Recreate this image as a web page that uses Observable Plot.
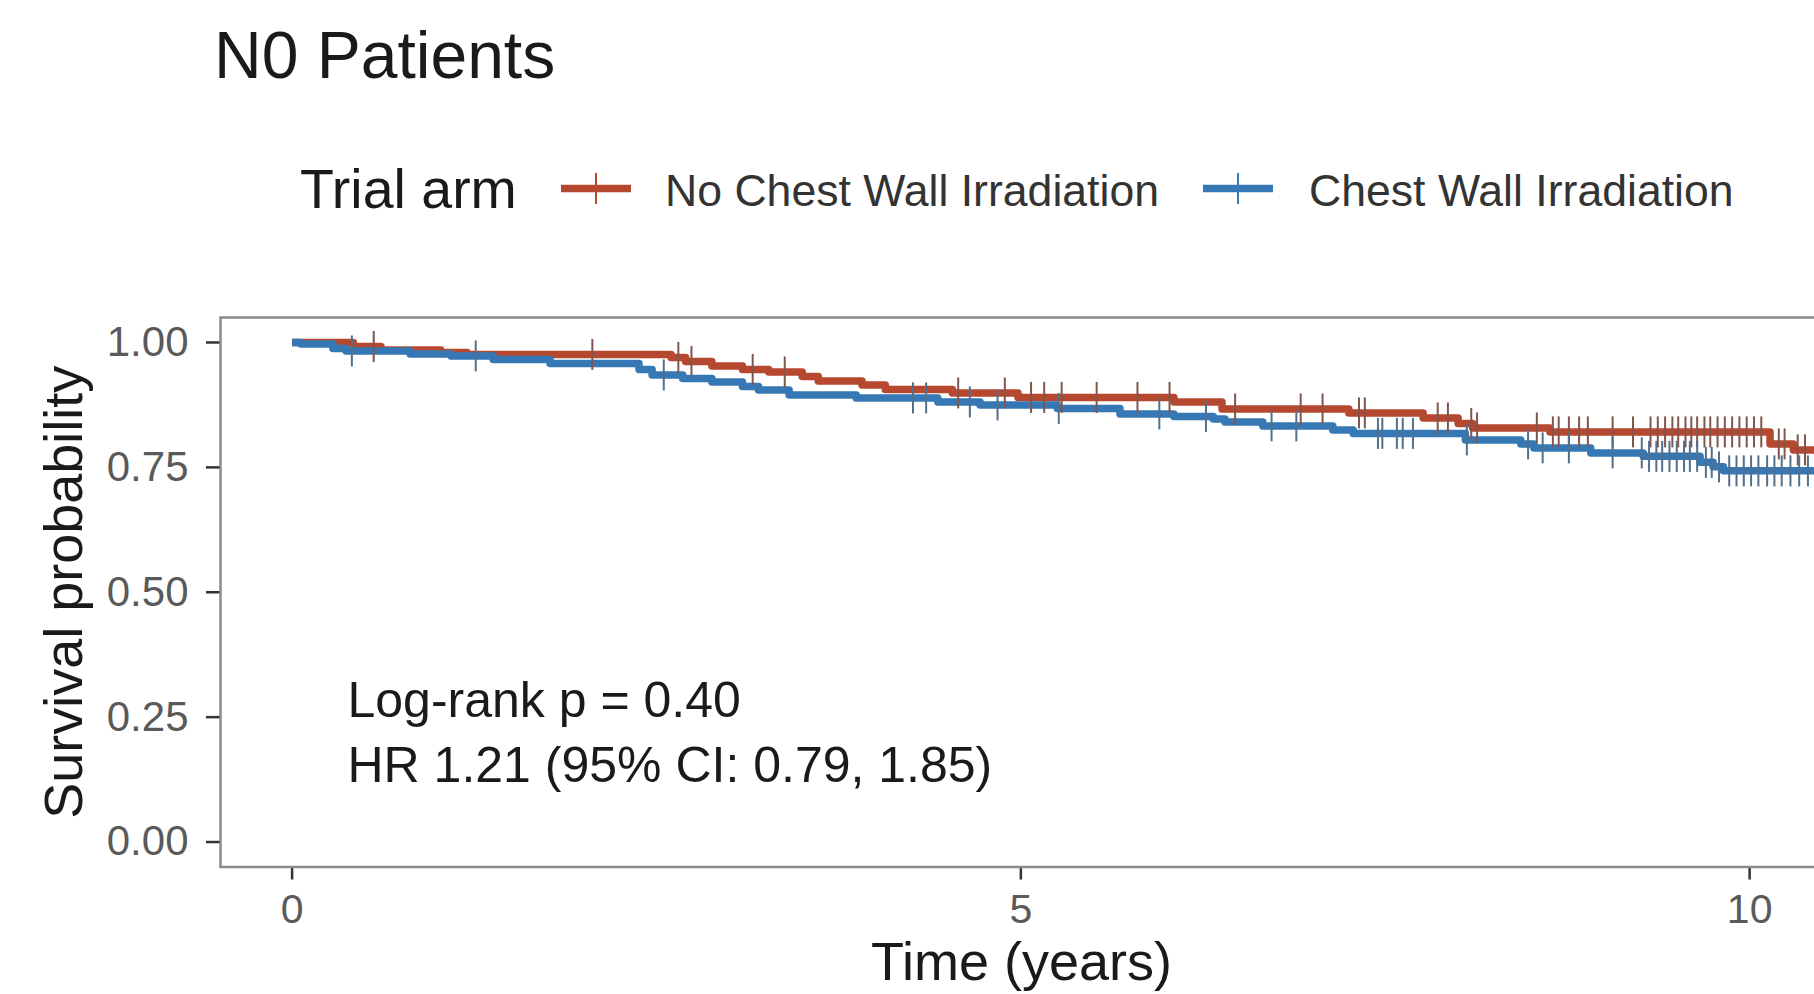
<!DOCTYPE html>
<html>
<head>
<meta charset="utf-8">
<script src="https://cdn.jsdelivr.net/npm/d3@7"></script>
<script src="https://cdn.jsdelivr.net/npm/@observablehq/plot@0.6"></script>
<style>
  html, body { margin: 0; padding: 0; background: #fff; overflow: hidden; }
  #chart { width: 1814px; height: 994px; overflow: hidden; }
  svg text { font-family: "Liberation Sans", Arial, Helvetica, sans-serif; }
</style>
</head>
<body>
<div id="chart"></div>
<script>
// Trial arms, in drawing order
const arms = ["No Chest Wall Irradiation", "Chest Wall Irradiation"];
const armColors = ["#B5482E", "#3678B5"];
const censorColors = ["#80564d", "#52708c"];

// Kaplan–Meier steps: time (years) and survival after each step
const noCwiTime = [0, 0.42, 0.61, 1.02, 1.20, 2.60, 2.70, 2.88, 3.09, 3.27, 3.50, 3.61, 3.91, 4.07, 4.53, 4.98, 6.05, 6.38, 7.25, 7.76, 8.00, 8.10, 8.63, 10.14, 10.30];
const noCwiSurv = [1.000, 0.992, 0.985, 0.980, 0.976, 0.970, 0.962, 0.953, 0.946, 0.941, 0.932, 0.923, 0.915, 0.906, 0.899, 0.890, 0.881, 0.867, 0.859, 0.849, 0.838, 0.829, 0.821, 0.797, 0.785];

const cwiTime = [0, 0.06, 0.28, 0.37, 0.81, 1.09, 1.38, 1.77, 2.38, 2.47, 2.68, 2.88, 3.09, 3.20, 3.41, 3.87, 4.43, 4.72, 5.25, 5.68, 6.05, 6.32, 6.40, 6.66, 7.14, 7.28, 8.05, 8.43, 8.52, 8.91, 9.27, 9.66, 9.75, 9.82];
const cwiSurv = [1.000, 0.997, 0.988, 0.983, 0.977, 0.973, 0.966, 0.958, 0.946, 0.935, 0.928, 0.921, 0.912, 0.905, 0.895, 0.889, 0.881, 0.875, 0.868, 0.857, 0.852, 0.847, 0.841, 0.833, 0.825, 0.818, 0.805, 0.797, 0.789, 0.779, 0.772, 0.760, 0.751, 0.743];

// Censoring times (years)
const noCwiCensor = [0.56, 2.06, 2.65, 2.74, 3.16, 3.38, 4.57, 4.89, 5.07, 5.16, 5.28, 5.52, 5.80, 6.02, 6.47, 6.92, 7.07, 7.32, 7.36, 7.86, 7.93, 8.09, 8.13, 8.54, 8.65, 8.69, 8.76, 8.83, 8.89, 9.06, 9.20, 9.32, 9.37, 9.42, 9.47, 9.51, 9.56, 9.60, 9.64, 9.69, 9.73, 9.78, 9.83, 9.88, 9.93, 9.98, 10.03, 10.08, 10.20, 10.24, 10.33, 10.38, 10.45];
const cwiCensor = [0.41, 1.26, 2.55, 4.26, 4.35, 4.65, 4.84, 5.26, 5.95, 6.27, 6.72, 6.89, 7.45, 7.48, 7.58, 7.62, 7.69, 8.06, 8.48, 8.58, 8.76, 9.06, 9.26, 9.31, 9.36, 9.40, 9.45, 9.50, 9.55, 9.59, 9.64, 9.70, 9.74, 9.79, 9.86, 9.91, 9.96, 10.01, 10.06, 10.12, 10.17, 10.22, 10.28, 10.34, 10.40, 10.45];

const xTicks = [0, 5, 10];
const yTicks = [0, 0.25, 0.5, 0.75, 1];

const titleText = "N0 Patients";
const legendTitle = "Trial arm";
const pValueText = "Log-rank p = 0.40";
const hrText = "HR 1.21 (95% CI: 0.79, 1.85)";
const xLabel = "Time (years)";
const yLabel = "Survival probability";

const times = [noCwiTime, cwiTime];
const survs = [noCwiSurv, cwiSurv];
const censors = [noCwiCensor, cwiCensor];

// survival at time t from a step function
function survAt(ts, ss, t) {
  const i = d3.bisectRight(ts, t) - 1;
  return ss[Math.max(0, i)];
}

// step rows per arm, held flat up to the last follow-up time
const curveRows = arms.map((arm, i) => {
  const rows = times[i].map((t, j) => ({arm, t, s: survs[i][j]}));
  const end = d3.max(censors[i]);
  rows.push({arm, t: end, s: survAt(times[i], survs[i], end)});
  return rows;
});
const censorRows = arms.map((arm, i) =>
  censors[i].map(t => ({arm, t, s: survAt(times[i], survs[i], t)}))
);

// vertical bar of the "+" censor mark
const censorBar = {
  draw(ctx, size) {
    const h = Math.sqrt(size / Math.PI);
    ctx.moveTo(0, -h);
    ctx.lineTo(0, h);
  }
};

const font = '"Liberation Sans", Arial, Helvetica, sans-serif';

// header: title and legend
const header = d3.create("svg")
  .attr("width", 1814).attr("height", 250)
  .style("display", "block")
  .style("font-family", font);

header.append("text")
  .attr("x", 214).attr("y", 77.5)
  .attr("font-size", 66).attr("fill", "#1a1a1a")
  .text(titleText);

header.append("text")
  .attr("x", 300).attr("y", 208)
  .attr("font-size", 55.5).attr("fill", "#1a1a1a")
  .text(legendTitle);

const keyX = [561, 1203];
const labelX = [665, 1309];
arms.forEach((arm, i) => {
  const g = header.append("g");
  g.append("line")
    .attr("x1", keyX[i]).attr("x2", keyX[i] + 70)
    .attr("y1", 188.6).attr("y2", 188.6)
    .attr("stroke", armColors[i]).attr("stroke-width", 7.5);
  g.append("line")
    .attr("x1", keyX[i] + 35).attr("x2", keyX[i] + 35)
    .attr("y1", 173).attr("y2", 204)
    .attr("stroke", armColors[i]).attr("stroke-width", 2);
  g.append("text")
    .attr("x", labelX[i]).attr("y", 206)
    .attr("font-size", 44.6).attr("fill", "#333")
    .text(arm);
});

const marks = [];
arms.forEach((arm, i) => {
  marks.push(Plot.line(curveRows[i], {
    x: "t", y: "s", curve: "step-after",
    stroke: armColors[i], strokeWidth: 7.5,
    strokeLinecap: "butt", strokeLinejoin: "round"
  }));
});
arms.forEach((arm, i) => {
  marks.push(Plot.dot(censorRows[i], {
    x: "t", y: "s", r: 15.5, symbol: censorBar,
    fill: "none", stroke: censorColors[i], strokeWidth: 2
  }));
});

const chart = Plot.plot({
  width: 1840,
  height: 744,
  marginLeft: 220,
  marginRight: 18,
  marginTop: 67,
  marginBottom: 127.5,
  x: {domain: [-0.4912, 10.5]},
  y: {domain: [-0.05, 1.05]},
  style: {fontFamily: font, background: "white", maxWidth: "none", overflow: "hidden"},
  marks: [
    ...marks,
    Plot.axisY(yTicks, {
      tickSize: 14, tickPadding: 18, tickFormat: d3.format(".2f"),
      fontSize: 42, fill: "#5a5a5a", stroke: "#333", strokeWidth: 2.5, label: null
    }),
    Plot.axisX(xTicks, {
      tickSize: 13, tickPadding: 14, tickFormat: d3.format("d"),
      fontSize: 41, fill: "#5a5a5a", stroke: "#333", strokeWidth: 2.5, label: null
    }),
    Plot.text([pValueText], {
      x: 0.38, y: 0.25, textAnchor: "start", lineAnchor: "bottom",
      fontSize: 50, fill: "#1a1a1a"
    }),
    Plot.text([hrText], {
      x: 0.38, y: 0.12, textAnchor: "start", lineAnchor: "bottom",
      fontSize: 50, fill: "#1a1a1a"
    }),
    Plot.text([xLabel], {
      frameAnchor: "bottom", dy: 113, lineAnchor: "bottom", textAnchor: "middle",
      fontSize: 54, fill: "#1a1a1a"
    }),
    Plot.text([yLabel], {
      frameAnchor: "left", dx: -139, rotate: -90, lineAnchor: "bottom", textAnchor: "middle",
      fontSize: 54, fill: "#1a1a1a"
    }),
    Plot.frame({stroke: "#8a8a8a", strokeWidth: 2.5})
  ]
});

const root = document.getElementById("chart");
root.appendChild(header.node());
root.appendChild(chart);
</script>
</body>
</html>
